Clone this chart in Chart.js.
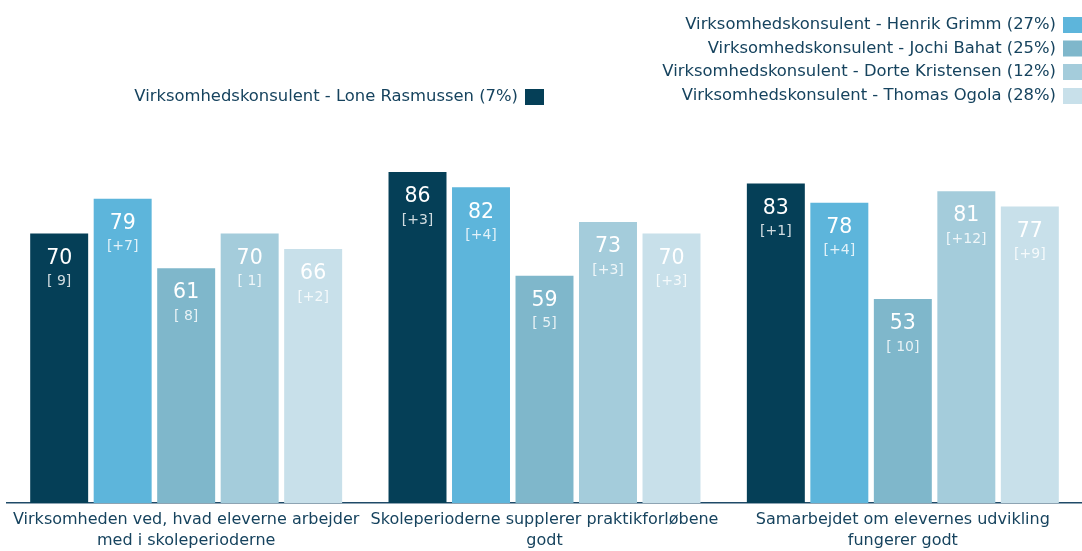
<!DOCTYPE html>
<html>
<head>
<meta charset="utf-8">
<script src="https://cdn.jsdelivr.net/npm/chart.js@4/dist/chart.umd.min.js"></script>
<style>
  html, body { margin: 0; padding: 0; background: #ffffff; }
  #wrap { width: 1082px; height: 551px; }
</style>
</head>
<body>
<div id="wrap"><canvas id="c" width="1082" height="551"></canvas></div>
<script>
const categories = [
  ["Virksomheden ved, hvad eleverne arbejder", "med i skoleperioderne"],
  ["Skoleperioderne supplerer praktikforløbene", "godt"],
  ["Samarbejdet om elevernes udvikling", "fungerer godt"]
];
const seriesNames = [
  "Virksomhedskonsulent - Lone Rasmussen (7%)",
  "Virksomhedskonsulent - Henrik Grimm (27%)",
  "Virksomhedskonsulent - Jochi Bahat (25%)",
  "Virksomhedskonsulent - Dorte Kristensen (12%)",
  "Virksomhedskonsulent - Thomas Ogola (28%)"
];
const loneValues   = [70, 86, 83];
const henrikValues = [79, 82, 78];
const jochiValues  = [61, 59, 53];
const dorteValues  = [70, 73, 81];
const thomasValues = [66, 70, 77];
const loneChanges   = ["[ 9]", "[+3]", "[+1]"];
const henrikChanges = ["[+7]", "[+4]", "[+4]"];
const jochiChanges  = ["[ 8]", "[ 5]", "[ 10]"];
const dorteChanges  = ["[ 1]", "[+3]", "[+12]"];
const thomasChanges = ["[+2]", "[+3]", "[+9]"];

const colors = ["#053F57", "#5DB5DB", "#7FB7CB", "#A4CCDB", "#C8E0EA"];
const valueSets = [loneValues, henrikValues, jochiValues, dorteValues, thomasValues];
const changeSets = [loneChanges, henrikChanges, jochiChanges, dorteChanges, thomasChanges];

const FONT = "'DejaVu Sans', Verdana, sans-serif";
const TEXT_COLOR = "#16435E";

const barLabels = {
  id: 'barLabels',
  afterDatasetsDraw(chart) {
    const ctx = chart.ctx;
    ctx.save();
    ctx.textAlign = 'center';
    ctx.textBaseline = 'middle';
    chart.data.datasets.forEach((ds, i) => {
      const meta = chart.getDatasetMeta(i);
      meta.data.forEach((el, j) => {
        ctx.fillStyle = '#ffffff';
        ctx.font = "20.5px " + FONT;
        ctx.fillText(String(ds.data[j]), el.x, el.y + 25);
        ctx.fillStyle = 'rgba(255,255,255,0.82)';
        ctx.font = "14px " + FONT;
        ctx.fillText(changeSets[i][j], el.x, el.y + 48);
      });
    });
    ctx.restore();
  }
};

const customLegend = {
  id: 'customLegend',
  afterDraw(chart) {
    const ctx = chart.ctx;
    const ds = chart.data.datasets;
    ctx.save();
    ctx.font = "16.4px " + FONT;
    ctx.textAlign = 'right';
    ctx.textBaseline = 'middle';
    const rowsY = [25, 48.5, 72, 96];
    for (let k = 1; k < ds.length; k++) {
      const y = rowsY[k - 1];
      ctx.fillStyle = TEXT_COLOR;
      ctx.fillText(ds[k].label, 1056, y);
      ctx.fillStyle = ds[k].backgroundColor;
      ctx.fillRect(1063, y - 8, 19, 16);
    }
    const y0 = 97;
    ctx.fillStyle = TEXT_COLOR;
    ctx.fillText(ds[0].label, 518, y0);
    ctx.fillStyle = ds[0].backgroundColor;
    ctx.fillRect(525, y0 - 8, 19, 16);
    ctx.restore();
  }
};

new Chart(document.getElementById('c'), {
  type: 'bar',
  data: {
    labels: categories,
    datasets: seriesNames.map((name, i) => ({
      label: name,
      data: valueSets[i],
      backgroundColor: colors[i],
      borderWidth: 0,
      categoryPercentage: 0.886,
      barPercentage: 0.913
    }))
  },
  options: {
    responsive: false,
    animation: false,
    devicePixelRatio: 1,
    layout: { padding: { left: 7, right: 0, top: 118, bottom: -7 } },
    plugins: { legend: { display: false }, tooltip: { enabled: false } },
    scales: {
      x: {
        grid: { display: false, drawTicks: false },
        border: { display: true, color: '#1F4A68', width: 1.5 },
        ticks: {
          color: TEXT_COLOR,
          font: { family: FONT, size: 16, lineHeight: '21.5px' },
          padding: 6,
          maxRotation: 0,
          minRotation: 0,
          autoSkip: false
        }
      },
      y: {
        display: false,
        min: 0,
        max: 100
      }
    }
  },
  plugins: [barLabels, customLegend]
});
</script>
</body>
</html>
